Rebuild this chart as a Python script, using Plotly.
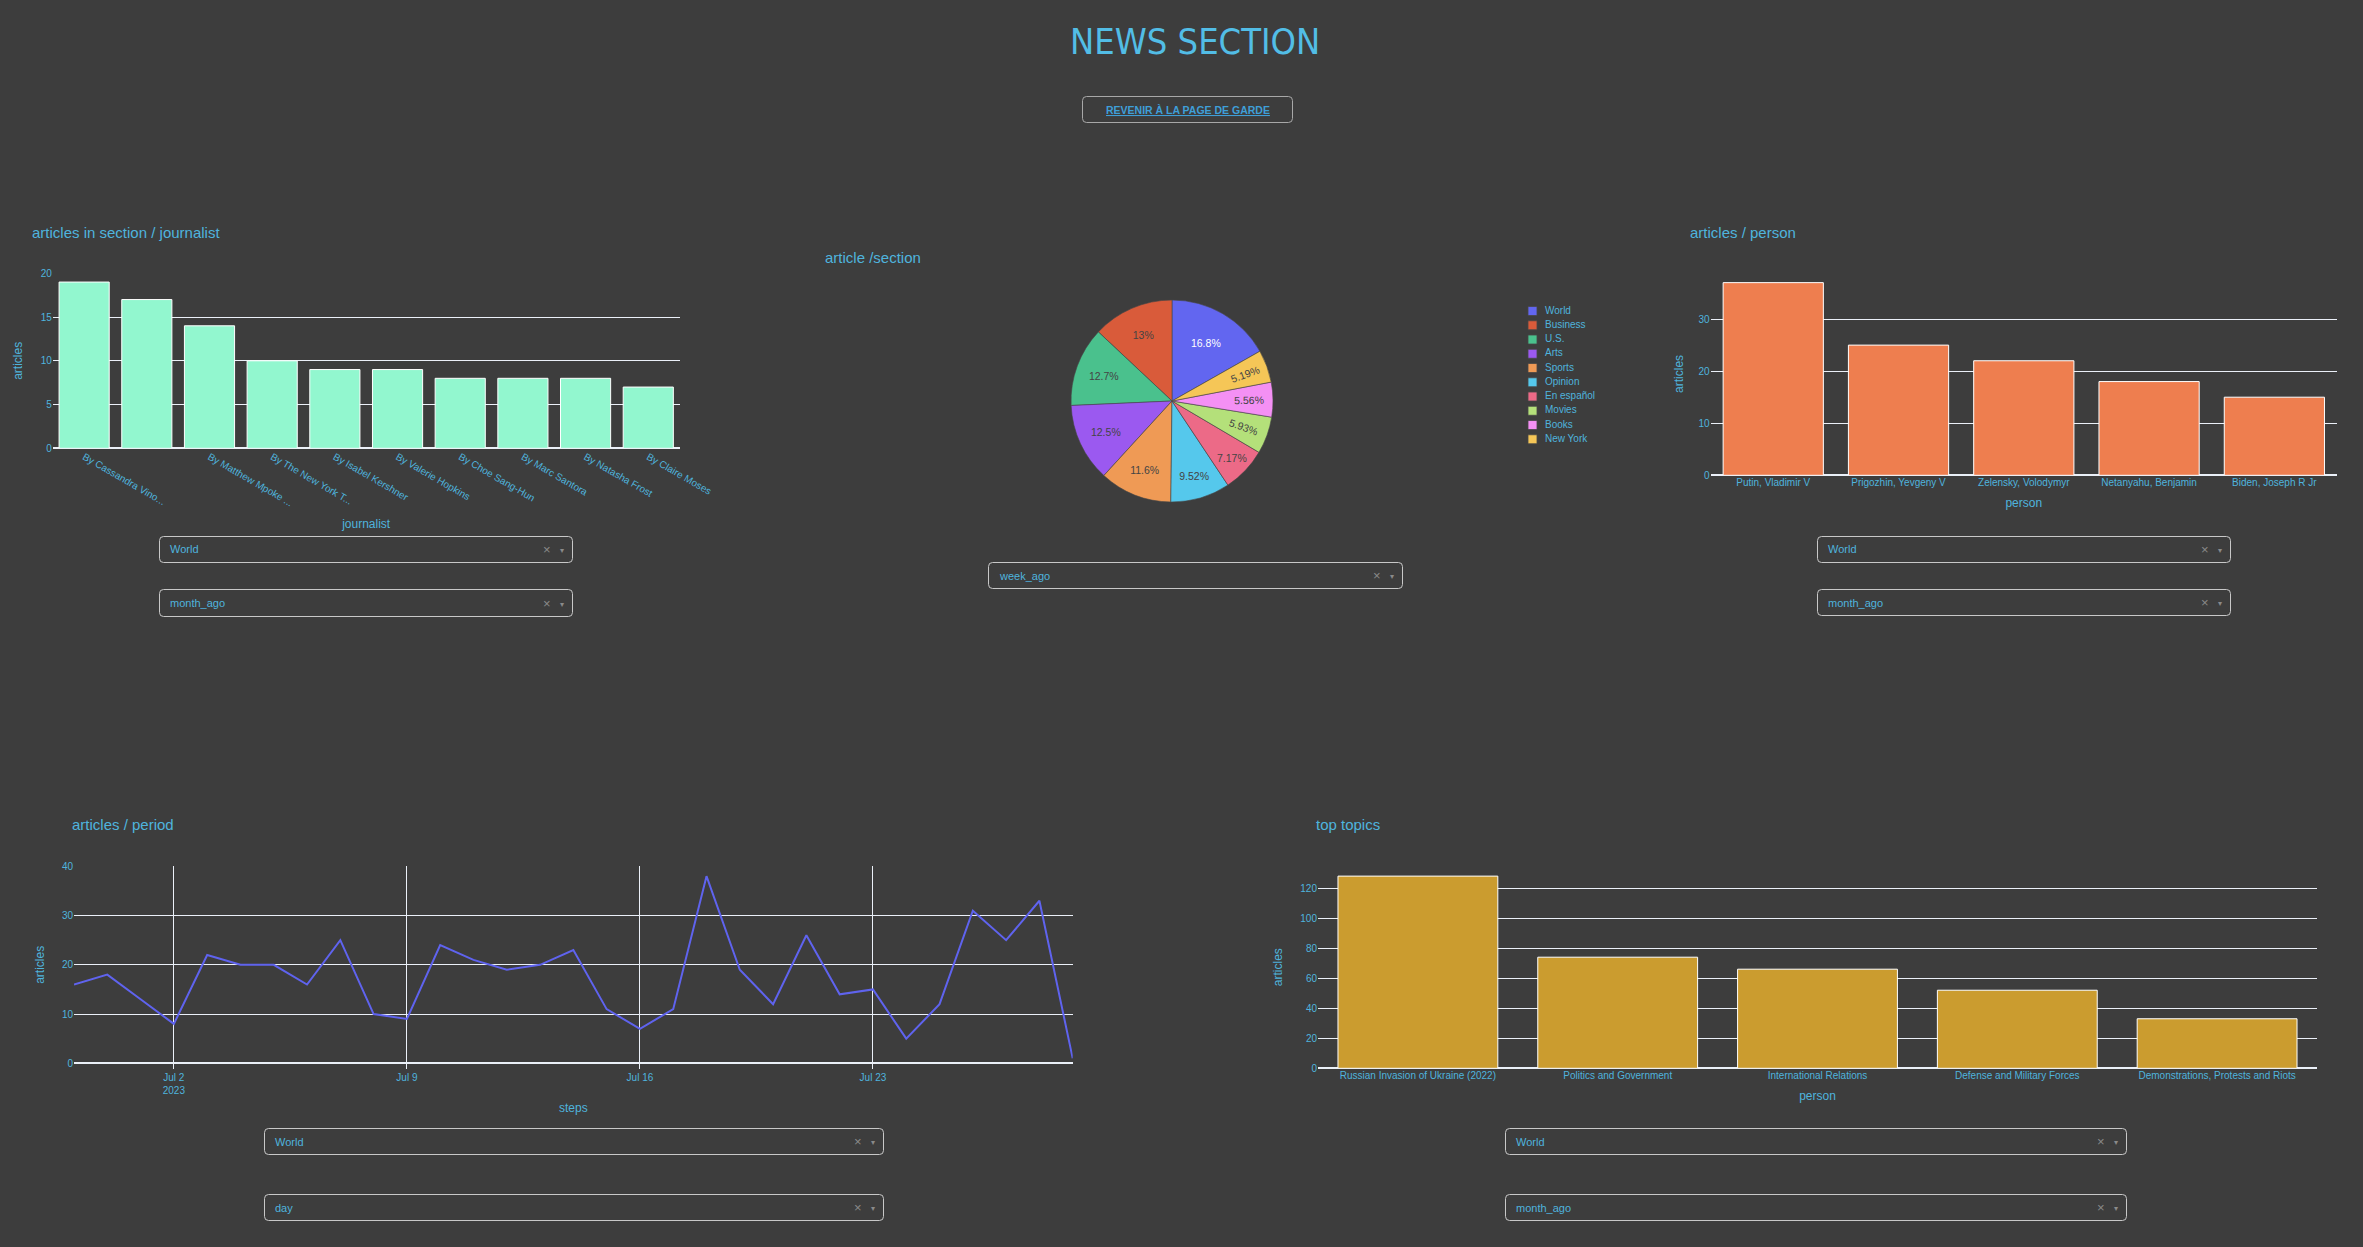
import plotly.graph_objects as go

W, H = 2363, 1247
BG = "#3d3d3d"
TXT = "#4fb4dd"
GRID = "#EBF0F8"
FONT = "Liberation Sans, Arial, sans-serif"

# ---------------- data ----------------
journalists = ["By Cassandra Vino...", " ", "By Matthew Mpoke ...", "By The New York T...",
               "By Isabel Kershner", "By Valerie Hopkins", "By Choe Sang-Hun",
               "By Marc Santora", "By Natasha Frost", "By Claire Moses"]
journalist_articles = [19, 17, 14, 10, 9, 9, 8, 8, 8, 7]

sections = ["World", "Business", "U.S.", "Arts", "Sports", "Opinion",
            "En español", "Movies", "Books", "New York"]
section_share = [16.8, 13.0, 12.7, 12.5, 11.6, 9.52, 7.17, 5.93, 5.56, 5.19]
section_colors = ["#6266f0", "#d95b3a", "#4ac18d", "#9b59f0", "#ef9a55",
                  "#55c8ec", "#ec6a87", "#b4e07a", "#f490f4", "#f5c657"]
section_text_colors = ["#ffffff", "#444444", "#444444", "#444444", "#444444",
                       "#444444", "#444444", "#444444", "#444444", "#444444"]

persons = ["Putin, Vladimir V", "Prigozhin, Yevgeny V", "Zelensky, Volodymyr",
           "Netanyahu, Benjamin", "Biden, Joseph R Jr"]
person_articles = [37, 25, 22, 18, 15]

period_days = ["2023-06-29", "2023-06-30", "2023-07-01", "2023-07-02", "2023-07-03",
               "2023-07-04", "2023-07-05", "2023-07-06", "2023-07-07", "2023-07-08",
               "2023-07-09", "2023-07-10", "2023-07-11", "2023-07-12", "2023-07-13",
               "2023-07-14", "2023-07-15", "2023-07-16", "2023-07-17", "2023-07-18",
               "2023-07-19", "2023-07-20", "2023-07-21", "2023-07-22", "2023-07-23",
               "2023-07-24", "2023-07-25", "2023-07-26", "2023-07-27", "2023-07-28",
               "2023-07-29"]
period_articles = [16, 18, 13, 8, 22, 20, 20, 16, 25, 10,
                   9, 24, 21, 19, 20, 23, 11, 7, 11, 38,
                   19, 12, 26, 14, 15, 5, 12, 31, 25, 33, 1]

topics = ["Russian Invasion of Ukraine (2022)", "Politics and Government",
          "International Relations", "Defense and Military Forces",
          "Demonstrations, Protests and Riots"]
topic_articles = [128, 74, 66, 52, 33]

dropdown_values = ["World", "month_ago", "week_ago", "World", "month_ago",
                   "World", "day", "World", "month_ago"]

# ---------------- helpers ----------------
def X(px):
    return px / W

def Y(py):
    return 1 - py / H

def dom_x(a, b):
    return [X(a), X(b)]

def dom_y(top, bottom):
    return [Y(bottom), Y(top)]

def rrect(x0, y0, x1, y1, r=4):
    return (f"M {X(x0 + r)},{Y(y0)} L {X(x1 - r)},{Y(y0)} Q {X(x1)},{Y(y0)} {X(x1)},{Y(y0 + r)} "
            f"L {X(x1)},{Y(y1 - r)} Q {X(x1)},{Y(y1)} {X(x1 - r)},{Y(y1)} "
            f"L {X(x0 + r)},{Y(y1)} Q {X(x0)},{Y(y1)} {X(x0)},{Y(y1 - r)} "
            f"L {X(x0)},{Y(y0 + r)} Q {X(x0)},{Y(y0)} {X(x0 + r)},{Y(y0)} Z")

fig = go.Figure()

# ---------------- traces ----------------
fig.add_trace(go.Bar(x=journalists, y=journalist_articles, marker=dict(color="#92f7cf", line=dict(color="white", width=1)),
                     xaxis="x", yaxis="y", showlegend=False))
fig.add_trace(go.Bar(x=persons, y=person_articles, marker=dict(color="#ee7e4f", line=dict(color="white", width=1)),
                     xaxis="x2", yaxis="y2", showlegend=False))
fig.add_trace(go.Scatter(x=period_days, y=period_articles, mode="lines", line=dict(color="#5f63ee", width=2),
                         xaxis="x3", yaxis="y3", showlegend=False))
fig.add_trace(go.Bar(x=topics, y=topic_articles, marker=dict(color="#cb9c2f", line=dict(color="white", width=1)),
                     xaxis="x4", yaxis="y4", showlegend=False))
fig.add_trace(go.Pie(labels=sections, values=section_share, textinfo="percent",
                     marker=dict(colors=section_colors, line=dict(color="rgba(70,70,70,0.6)", width=1)),
                     insidetextfont=dict(color=section_text_colors, size=10.5, family=FONT),
                     domain=dict(x=dom_x(1071, 1273), y=dom_y(300, 502)), showlegend=False))
# legend of the pie (square markers + labels)
fig.add_trace(go.Scatter(x=[12.5] * len(sections), y=sections, mode="markers",
                         marker=dict(symbol="square", size=9, color=section_colors,
                                     line=dict(color="rgba(70,70,70,0.8)", width=1)),
                         xaxis="x5", yaxis="y5", showlegend=False, hoverinfo="skip"))
fig.add_trace(go.Scatter(x=[25] * len(sections), y=sections, mode="text", text=sections,
                         textposition="middle right", textfont=dict(color=TXT, size=10, family=FONT),
                         xaxis="x5", yaxis="y5", showlegend=False, hoverinfo="skip"))

tickf = dict(color=TXT, size=10, family=FONT)
titlef = dict(color=TXT, size=12, family=FONT)
yax_common = dict(gridcolor=GRID, gridwidth=1, zeroline=True, zerolinecolor=GRID, zerolinewidth=2,
                  tickfont=tickf, showline=False, ticks="")

fig.update_layout(
    width=W, height=H, margin=dict(l=0, r=0, t=0, b=0, pad=0, autoexpand=False),
    paper_bgcolor=BG, plot_bgcolor="rgba(0,0,0,0)",
    font=dict(family=FONT, color=TXT),
    bargap=0.2,
    xaxis=dict(domain=dom_x(52.8, 679.6), anchor="y", showgrid=False, tickfont=tickf, tickangle=30,
               title=dict(text="journalist", font=titlef, standoff=12)),
    yaxis=dict(domain=dom_y(273.3, 448.3), anchor="x", dtick=5, title=dict(text="articles", font=titlef, standoff=15),
               **yax_common),
    xaxis2=dict(domain=dom_x(1710.6, 2337), anchor="y2", showgrid=False, tickfont=tickf,
                title=dict(text="person", font=titlef, standoff=11)),
    yaxis2=dict(domain=dom_y(272.5, 475.3), anchor="x2", dtick=10, title=dict(text="articles", font=titlef, standoff=12),
                **yax_common),
    xaxis3=dict(domain=dom_x(74, 1072.7), anchor="y3", showgrid=True, gridcolor=GRID, tickfont=tickf,
                ticks="outside", ticklen=5, tickcolor=GRID, dtick=7 * 86400000, tick0="2023-07-02",
                title=dict(text="steps", font=titlef, standoff=8)),
    yaxis3=dict(domain=dom_y(866.3, 1063.3), anchor="x3", range=[0, 40], dtick=10,
                title=dict(text="articles", font=titlef, standoff=14), **yax_common),
    xaxis4=dict(domain=dom_x(1318, 2317), anchor="y4", showgrid=False, tickfont=tickf,
                title=dict(text="person", font=titlef, standoff=11)),
    yaxis4=dict(domain=dom_y(866, 1068.3), anchor="x4", dtick=20, title=dict(text="articles", font=titlef, standoff=15),
                **yax_common),
    xaxis5=dict(domain=dom_x(1520, 1720), anchor="y5", range=[0, 200], visible=False),
    yaxis5=dict(domain=dom_y(303.9, 446.4), anchor="x5", range=[len(sections) - 0.5, -0.5], visible=False),
)

annotations = []
shapes = []

# page title
annotations.append(dict(text="NEWS SECTION", x=X(1195), y=Y(42), xref="paper", yref="paper",
                        xanchor="center", yanchor="middle", showarrow=False,
                        font=dict(family="DejaVu Sans Condensed, Roboto, Liberation Sans", size=36, color="#52bde6")))
# back button
shapes.append(dict(type="path", path=rrect(1082.5, 96.5, 1292.5, 122.5, 4), xref="paper", yref="paper",
                   line=dict(color="#a8a8a8", width=1)))
annotations.append(dict(text="<b>REVENIR À LA PAGE DE GARDE</b>", x=X(1188), y=Y(110), xref="paper", yref="paper",
                        xanchor="center", yanchor="middle", showarrow=False,
                        font=dict(family=FONT, size=10.5, color="#3f9fd8", lineposition="under")))

# chart titles
for txt, px_, py_ in [("articles in section / journalist", 30, 232), ("article /section", 823, 258),
                      ("articles / person", 1688, 232), ("articles / period", 69.6, 824),
                      ("top topics", 1313.5, 824)]:
    annotations.append(dict(text=txt, x=X(px_), y=Y(py_), xref="paper", yref="paper", xanchor="left",
                            yanchor="middle", showarrow=False, font=dict(family=FONT, size=15, color=TXT)))

# dropdowns
boxes = [(159, 573, 536, 563), (159, 573, 589, 617), (988, 1403, 562, 589),
         (1817, 2231, 536, 563), (1817, 2231, 589, 616), (264, 884, 1128, 1155),
         (264, 884, 1194, 1221), (1505, 2127, 1128, 1155), (1505, 2127, 1194, 1221)]
for (x0, x1, y0, y1), val in zip(boxes, dropdown_values):
    shapes.append(dict(type="path", path=rrect(x0 + 0.5, y0 + 0.5, x1 - 0.5, y1 - 0.5, 4), xref="paper", yref="paper",
                       line=dict(color="#c8c8c8", width=1)))
    ym = (y0 + y1) / 2
    annotations.append(dict(text=val, x=X(x0 + 9), y=Y(ym), xref="paper", yref="paper", xanchor="left",
                            yanchor="middle", showarrow=False, font=dict(family=FONT, size=11, color=TXT)))
    annotations.append(dict(text="×", x=X(x1 - 26), y=Y(ym), xref="paper", yref="paper", xanchor="center",
                            yanchor="middle", showarrow=False, font=dict(family=FONT, size=13, color="#8a8a8a")))
    annotations.append(dict(text="▾", x=X(x1 - 11), y=Y(ym + 1), xref="paper", yref="paper", xanchor="center",
                            yanchor="middle", showarrow=False, font=dict(family="DejaVu Sans", size=8, color="#8a8a8a")))

fig.update_layout(annotations=annotations, shapes=shapes)

fig.write_html("out.html", config={"displayModeBar": False},
               post_script="document.body.style.margin='0';document.body.style.overflow='hidden';document.body.style.background='%s';" % BG)
